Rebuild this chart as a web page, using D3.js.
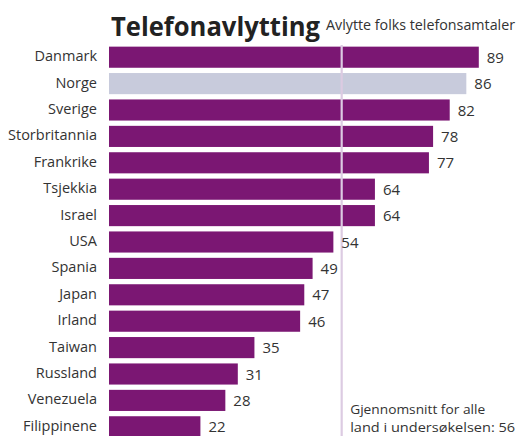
<!DOCTYPE html>
<html><head><meta charset="utf-8">
<script src="https://cdn.jsdelivr.net/npm/d3@7"></script>
<style>
body{margin:0;background:#fff;}
svg{display:block;font-family:"Open Sans",sans-serif;}
</style></head>
<body>
<svg id="chart" width="519" height="436"></svg>
<script>
const countries = ["Danmark","Norge","Sverige","Storbritannia","Frankrike","Tsjekkia","Israel","USA","Spania","Japan","Irland","Taiwan","Russland","Venezuela","Filippinene"];
const values = [89,86,82,78,77,64,64,54,49,47,46,35,31,28,22];
const highlight = ["Norge"];
const average = 56;
const titleText = "Telefonavlytting";
const subtitleText = "Avlytte folks telefonsamtaler";
const noteLines = ["Gjennomsnitt for alle","land i undersøkelsen: 56"];

const svg = d3.select("#chart");
const x = d3.scaleLinear().domain([0,100]).range([109,524.5]);
const y = d3.scaleBand().domain(countries).range([44,440]).paddingInner(0.2).paddingOuter(0.1);

const purple = "#7b1773", grey = "#c8cbdc", txt = "#333";

svg.append("text").attr("x",111).attr("y",36).attr("font-size",27).attr("font-weight",700).attr("fill","#222")
  .attr("textLength",209).attr("lengthAdjust","spacingAndGlyphs").text(titleText);
svg.append("text").attr("x",326).attr("y",30).attr("font-size",14.5).attr("fill",txt)
  .attr("textLength",189).attr("lengthAdjust","spacingAndGlyphs").text(subtitleText);

svg.append("g").selectAll("rect").data(countries).join("rect")
  .attr("x",x(0)).attr("y",d=>y(d)).attr("height",y.bandwidth())
  .attr("width",(d,i)=>x(values[i])-x(0))
  .attr("fill",d=>highlight.includes(d)?grey:purple);

svg.append("line").attr("x1",x(average)).attr("x2",x(average)).attr("y1",45).attr("y2",436)
  .attr("stroke","#dccbe2").attr("stroke-width",2.2);

svg.append("g").selectAll("text").data(countries).join("text")
  .attr("x",97).attr("y",d=>y(d)+y.bandwidth()/2+4).attr("text-anchor","end")
  .attr("font-size",14.5).attr("fill",txt).text(d=>d);

svg.append("g").selectAll("text").data(countries).join("text")
  .attr("x",(d,i)=>x(values[i])+8).attr("y",d=>y(d)+y.bandwidth()/2+5.5)
  .attr("font-size",15).attr("fill",txt).text((d,i)=>values[i]);

svg.append("g").selectAll("text").data(noteLines).join("text")
  .attr("x",x(average)+8.5).attr("y",(d,i)=>414+i*17.5)
  .attr("font-size",13.5).attr("fill",txt)
  .attr("textLength",(d,i)=>i===0?135:165).attr("lengthAdjust","spacingAndGlyphs").text(d=>d);
</script>
</body></html>
